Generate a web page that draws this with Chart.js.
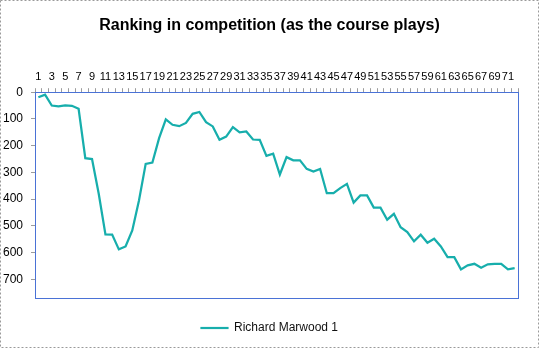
<!DOCTYPE html>
<html>
<head>
<meta charset="utf-8">
<script src="https://cdn.jsdelivr.net/npm/chart.js@4.4.0/dist/chart.umd.min.js"></script>
<style>
    html, body { margin: 0; padding: 0; background: #fff; }
</style>
</head>
<body>
<canvas id="rankChart" width="539" height="348"></canvas>
<script>
// holes played (category axis)
const holes = ['1','2','3','4','5','6','7','8','9','10','11','12','13','14','15','16','17','18',
    '19','20','21','22','23','24','25','26','27','28','29','30','31','32','33','34','35','36',
    '37','38','39','40','41','42','43','44','45','46','47','48','49','50','51','52','53','54',
    '55','56','57','58','59','60','61','62','63','64','65','66','67','68','69','70','71','72'];

// ranking after each hole
const ranking = [19, 9, 50, 53, 49, 51, 62, 247, 250, 380, 532, 533, 588, 577, 517, 405, 268, 263,
    172, 102, 122, 127, 115, 81, 74, 112, 128, 178, 166, 131, 150, 147, 177, 178, 238, 230,
    308, 243, 255, 255, 287, 297, 287, 378, 378, 359, 343, 413, 386, 386, 432, 432, 477, 455,
    505, 523, 558, 533, 563, 548, 577, 617, 617, 663, 648, 642, 657, 644, 642, 642, 663, 658];

const rankTicks = [0, 100, 200, 300, 400, 500, 600, 700];
const seriesName = 'Richard Marwood 1';

const lineColor = '#17aeac';

const frames = {
    id: 'frames',
    afterDraw(chart) {
        const c = chart.ctx, a = chart.chartArea;
        c.save();
        c.strokeStyle = '#4a72d6';
        c.lineWidth = 1;
        c.strokeRect(Math.round(a.left) + 0.5, Math.round(a.top) + 0.5,
            Math.round(a.right - a.left), Math.round(a.bottom - a.top));
        c.strokeStyle = '#9a9a9a';
        c.setLineDash([2, 2]);
        c.strokeRect(0.5, 0.5, chart.width - 1, chart.height - 1);
        c.restore();
    }
};

// empty box used only to reserve room
function blankAxis(pos, size) {
    return {
        type: pos === 'bottom' ? 'category' : 'linear',
        position: pos,
        display: true,
        grid: { display: false },
        border: { display: false },
        ticks: { display: false },
        afterFit: function (scale) {
            if (pos === 'bottom') scale.height = size; else scale.width = size;
        }
    };
}

new Chart(document.getElementById('rankChart'), {
    type: 'line',
    data: {
        labels: holes,
        datasets: [{
            label: seriesName,
            data: ranking,
            xAxisID: 'x',
            yAxisID: 'y',
            borderColor: lineColor,
            backgroundColor: lineColor,
            borderWidth: 2.25,
            pointRadius: 0,
            tension: 0,
            fill: false
        }]
    },
    options: {
        responsive: false,
        animation: false,
        layout: { padding: { left: 0, right: 0, top: 0, bottom: 4 } },
        plugins: {
            title: {
                display: true,
                text: 'Ranking in competition (as the course plays)',
                color: '#000',
                font: { family: 'Liberation Sans', size: 16, weight: 'bold' },
                padding: { top: 16, bottom: 35 }
            },
            legend: {
                position: 'bottom',
                labels: {
                    color: '#111',
                    font: { family: 'Liberation Sans', size: 12 },
                    boxWidth: 27,
                    boxHeight: 1,
                    padding: 10,
                    generateLabels: function (chart) {
                        const items = Chart.defaults.plugins.legend.labels.generateLabels(chart);
                        items.forEach(function (it) { it.lineWidth = 1.2; });
                        return items;
                    }
                }
            },
            tooltip: { enabled: false }
        },
        scales: {
            x: {
                position: 'top',
                offset: true,
                grid: { offset: true, drawOnChartArea: false, tickLength: 4, color: '#9c9c9c' },
                border: { display: false },
                ticks: {
                    autoSkip: false,
                    maxRotation: 0,
                    padding: 5,
                    color: '#000',
                    font: { family: 'Liberation Sans', size: 11 },
                    callback: function (value, index) {
                        return index % 2 === 0 ? holes[index] : '';
                    }
                },
                afterFit: function (scale) { scale.height = 22; }
            },
            y: {
                reverse: true,
                min: 0,
                max: 770,
                grid: { drawOnChartArea: false, tickLength: 4, color: '#9c9c9c' },
                border: { display: false },
                ticks: {
                    padding: 8,
                    color: '#000',
                    font: { family: 'Liberation Sans', size: 12 }
                },
                afterBuildTicks: function (axis) {
                    axis.ticks = rankTicks.map(function (v) { return { value: v }; });
                },
                afterFit: function (scale) { scale.width = 35; }
            },
            spacer: blankAxis('bottom', 14),
            rightGap: blankAxis('right', 21)
        }
    },
    plugins: [frames]
});
</script>
</body>
</html>
